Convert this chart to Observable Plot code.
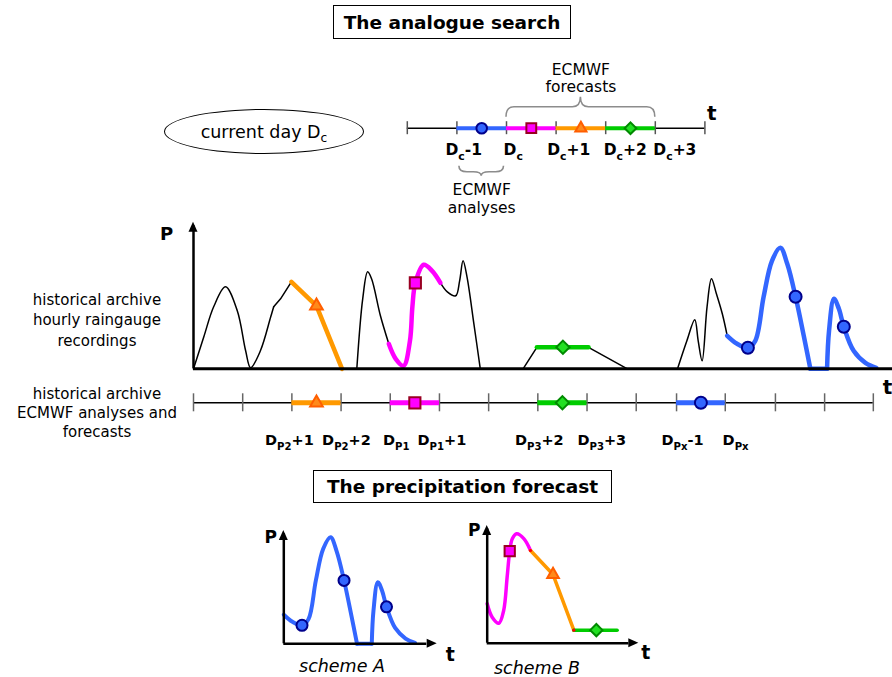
<!DOCTYPE html>
<html><head><meta charset="utf-8">
<script src="https://cdn.jsdelivr.net/npm/d3@7"></script>
<script src="https://cdn.jsdelivr.net/npm/@observablehq/plot@0.6"></script>
<style>
body{margin:0;background:#fff;}
#fig{position:relative;width:892px;height:677px;overflow:hidden;font-family:"DejaVu Sans",sans-serif;color:#000;}
.box{position:absolute;border:1.5px solid #000;box-sizing:border-box;display:flex;align-items:center;justify-content:center;font-weight:bold;font-size:18.5px;}
.ell{position:absolute;border:1.5px solid #000;box-sizing:border-box;border-radius:50%;display:flex;align-items:center;justify-content:center;font-size:17.5px;}
.lab{position:absolute;text-align:center;font-size:15px;}
.cap{position:absolute;text-align:center;font-size:17.5px;font-style:italic;line-height:17px;}
.sub{font-size:70%;position:relative;top:0.4em;}
#fig svg{position:absolute;overflow:visible;}
</style></head><body><div id="fig"></div>
<script>
// ================= DATA =================
// Current-day timeline (days relative to Dc)
const topTicks = [-2, -1, 0, 1, 2, 3, 4];
const topSegments = [
  {series: "analysis", from: -1, to: 0},
  {series: "day0", from: 0, to: 1},
  {series: "day1", from: 1, to: 2},
  {series: "day2", from: 2, to: 3}
];
const topLabels = [
  {text: "D_{c}-1", t: -1.23},
  {text: "D_{c}", t: -0.06},
  {text: "D_{c}+1", t: 0.82},
  {text: "D_{c}+2", t: 1.96},
  {text: "D_{c}+3", t: 2.96}
];
const topBraces = [
  {from: 0, to: 3, side: "above", text: "ECMWF\nforecasts"},
  {from: -1, to: 0, side: "below", text: "ECMWF\nanalyses"}
];

// Historical archive timeline (days from archive start)
const archiveTicks = [0, 1, 2, 3, 4, 5, 6, 7, 8, 9, 9.82, 10.81, 11.83, 12.83, 13.82];
const archiveSegments = [
  {series: "day1", from: 2, to: 3},
  {series: "day0", from: 4, to: 5},
  {series: "day2", from: 7, to: 8},
  {series: "analysis", from: 9.82, to: 10.81}
];
const archiveLabels = [
  {text: "D_{P2}+1", t: 1.95},
  {text: "D_{P2}+2", t: 3.11},
  {text: "D_{P1}", t: 4.12},
  {text: "D_{P1}+1", t: 5.05},
  {text: "D_{P3}+2", t: 7.03},
  {text: "D_{P3}+3", t: 8.3},
  {text: "D_{Px}-1", t: 9.94},
  {text: "D_{Px}", t: 11.02}
];

// Hourly raingauge recordings: [day, P]
const rainBlack1 = [[0,0],[0.21,3.2],[0.41,6.2],[0.65,8.2],[0.89,5.8],[1.06,1.8],[1.16,0.1],[1.36,1.8],[1.57,5.2],[1.63,6.2]];
const rainBlack1b = [[1.63,6.2],[1.77,7.0],[1.99,8.7]];
const rainOrange = [[1.99,8.7],[2.5,6.3],[3.02,0]];
const rainBlack2 = [[3.32,0],[3.44,7.0],[3.54,9.7],[3.62,9.0],[3.8,5.3],[3.97,2.5]];
const rainMagenta = [[3.97,2.5],[4.11,1.0],[4.27,0.3],[4.4,2.8],[4.45,6.2],[4.51,8.6],[4.68,10.4],[4.85,9.8],[5.02,8.6]];
const rainBlack3 = [[5.02,8.6],[5.16,7.7],[5.33,7.3],[5.41,8.8],[5.48,10.8],[5.56,9.2],[5.7,4.5],[5.83,0]];
const rainBlack4 = [[6.7,0],[6.98,2.15]];
const rainGreen = [[6.98,2.15],[8.03,2.15]];
const rainBlack5 = [[8.03,2.15],[8.82,0]];
const rainBlack6 = [[9.84,0],[10.03,2.8],[10.19,4.9],[10.26,2.8],[10.34,0.8],[10.44,6.2],[10.53,9.0],[10.63,7.5],[10.75,5.5],[10.85,3.3]];
const rainBlue1 = [[10.85,3.3],[11.05,2.5],[11.27,2.1],[11.42,2.8],[11.59,7.2],[11.76,10.8],[11.93,12.1],[12.07,10.5],[12.24,7.2],[12.41,3.2],[12.54,0]];
const rainBlue2 = [[12.54,0],[12.88,0]];
const rainBlue3 = [[12.88,0],[12.92,3.8],[13.02,7.0],[13.12,6.0],[13.22,4.2],[13.42,1.8],[13.66,0.6],[13.88,0.1]];
const rainMarkers = [
  {series: "day1", t: 2.5, p: 6.3},
  {series: "day0", t: 4.51, p: 8.6},
  {series: "day2", t: 7.51, p: 2.15},
  {series: "analysis", t: 11.27, p: 2.1},
  {series: "analysis", t: 12.24, p: 7.2},
  {series: "analysis", t: 13.22, p: 4.2}
];

// Scheme B forecast: [day, P]
const schemeBMagenta = [[0,4.38],[0.115,2.89],[0.27,2.22],[0.38,3.63],[0.46,7.33],[0.52,10.22],[0.58,11.6],[0.68,12.16],[0.85,11.6],[1.0,10.3]];
const schemeBOrange = [[1.0,10.3],[1.52,7.63],[2.0,1.45]];
const schemeBGreen = [[2.0,1.45],[3.0,1.45]];
const schemeBJoins = [[1.0,10.3],[2.0,1.45]];
const schemeBMarkers = [
  {series: "day0", t: 0.52, p: 10.22},
  {series: "day1", t: 1.52, p: 7.63},
  {series: "day2", t: 2.52, p: 1.45}
];

// ================= STYLES =================
const styles = {
  analysis: {line: "#3366ff", symbol: "circle", fill: "#3366ff", stroke: "#00008b", r: 6},
  day0: {line: "#ff00ff", symbol: "square", fill: "#ff00ff", stroke: "#990022", r: 6.3},
  day1: {line: "#ff9900", symbol: "triangle", fill: "#ff8a1a", stroke: "#ff5e00", r: 4.7},
  day2: {line: "#00cc00", symbol: "diamond2", fill: "#22e022", stroke: "#008a00", r: 6}
};
const FONT = "DejaVu Sans, sans-serif";
const fig = document.getElementById("fig");

function panel({left, top, width, height, x, y, marks}) {
  const svg = Plot.plot({
    width, height, margin: 0,
    x: {domain: x.domain, range: x.range.map(v => v - left), axis: null},
    y: {domain: y.domain, range: y.range.map(v => v - top), axis: null},
    style: {background: "none", overflow: "visible", fontFamily: FONT},
    marks
  });
  svg.style.left = left + "px";
  svg.style.top = top + "px";
  svg.style.maxWidth = "none";
  fig.appendChild(svg);
  return svg;
}
function line(data, stroke, strokeWidth, curve = "catmull-rom") {
  return Plot.line(data, {x: d => d[0], y: d => d[1], stroke, strokeWidth, curve});
}
function markers(data, xf, yf, scale = 1) {
  return Object.keys(styles).map(s => {
    const st = styles[s];
    return Plot.dot(data.filter(d => d.series === s), {
      x: xf, y: yf, symbol: st.symbol, r: st.r * scale,
      fill: st.fill, stroke: st.stroke, strokeWidth: 2
    });
  });
}
function segmentMarks(segs, strokeWidth, rScale) {
  return [
    ...Object.keys(styles).map(s => Plot.ruleY(segs.filter(d => d.series === s),
      {y: 0, x1: "from", x2: "to", stroke: styles[s].line, strokeWidth, strokeLinecap: "butt"})),
    ...markers(segs, d => (d.from + d.to) / 2, 0, rScale)
  ];
}
function subscripts(svg, fs) {
  const ns = "http://www.w3.org/2000/svg";
  svg.querySelectorAll("text").forEach(t => {
    if (t.querySelector("tspan")) return;
    const m = t.textContent.match(/^(.*?)_\{([^}]*)\}(.*)$/);
    if (!m) return;
    t.textContent = "";
    const a = document.createElementNS(ns, "tspan"); a.textContent = m[1]; t.appendChild(a);
    const b = document.createElementNS(ns, "tspan"); b.textContent = m[2];
    b.setAttribute("font-size", (fs * 0.7) + "px"); b.setAttribute("dy", (fs * 0.28) + "px"); t.appendChild(b);
    if (m[3]) { const c = document.createElementNS(ns, "tspan"); c.textContent = m[3]; c.setAttribute("dy", (-fs * 0.28) + "px"); t.appendChild(c); }
  });
}
function arrowHead(svg, xv, yv, dir) {
  const X = svg.scale("x").apply(xv), Y = svg.scale("y").apply(yv);
  const L = 10, W = 4.5;
  const pts = dir === "up" ? [[X, Y], [X - W, Y + L], [X + W, Y + L]] : [[X, Y], [X - L, Y - W], [X - L, Y + W]];
  d3.select(svg).append("path").attr("d", "M" + pts.join("L") + "Z").attr("fill", "#000");
}
function addBrace(svg, b) {
  const sx = svg.scale("x"), sy = svg.scale("y");
  const inset = b.side === "below" ? 2.5 : 0;
  const x1 = sx.apply(b.from) + inset, x2 = sx.apply(b.to) - inset, base = sy.apply(0);
  const s = b.side === "above" ? -1 : 1;
  const y0 = base + s * (b.side === "above" ? 11 : 38);
  const y1 = y0 + s * (b.side === "above" ? 10 : 6), y2 = y0 + s * (b.side === "above" ? 20 : 10);
  const xm = (x1 + x2) / 2, r = Math.min(8, (x2 - x1) / 4);
  const d = `M${x1},${y0}Q${x1},${y1} ${x1 + r},${y1}L${xm - r},${y1}Q${xm},${y1} ${xm},${y2}Q${xm},${y1} ${xm + r},${y1}L${x2 - r},${y1}Q${x2},${y1} ${x2},${y0}`;
  d3.select(svg).insert("path", ":first-child").attr("d", d).attr("fill", "none").attr("stroke", "#8c8c8c").attr("stroke-width", 1.6);
}

// ================= HTML annotations =================
function html(cls, css, content) {
  const el = document.createElement("div");
  el.className = cls; Object.assign(el.style, css); el.innerHTML = content; fig.appendChild(el); return el;
}
html("box", {left: "333px", top: "5px", width: "238px", height: "34px"}, "The analogue search");
html("box", {left: "313px", top: "470px", width: "299px", height: "33px"}, "The precipitation forecast");
html("ell", {left: "164px", top: "109px", width: "200px", height: "45px"}, "<span>current day D<span class='sub'>c</span></span>");
html("lab", {left: "0px", top: "290px", width: "194px", lineHeight: "20.3px"}, "historical archive<br>hourly raingauge<br>recordings");
html("lab", {left: "0px", top: "385px", width: "194px", lineHeight: "19.2px"}, "historical archive<br>ECMWF analyses and<br>forecasts");
html("cap", {left: "292px", top: "658px", width: "100px"}, "scheme A");
html("cap", {left: "487px", top: "660px", width: "100px"}, "scheme B");

// ================= Current-day timeline =================
const topSvg = panel({
  left: 380, top: 50, width: 350, height: 170,
  x: {domain: [-2, 4], range: [406.8, 704.4]},
  y: {domain: [-1, 1], range: [177.7, 77.7]},
  marks: [
    Plot.ruleY([0], {x1: -2, x2: 4, stroke: "#000", strokeWidth: 1.5}),
    Plot.ruleX(topTicks, {y1: -0.13, y2: 0.13, stroke: "#555", strokeWidth: 1.5}),
    ...segmentMarks(topSegments, 4, 0.88),
    Plot.text(topLabels, {x: "t", y: 0, text: "text", textAnchor: "start", dy: 22, fontSize: 15.5, fontWeight: "bold"}),
    Plot.text(topBraces.filter(d => d.side === "above"), {x: d => (d.from + d.to) / 2, y: 0, text: "text", dy: -50, fontSize: 15.5, lineHeight: 1.12}),
    Plot.text(topBraces.filter(d => d.side === "below"), {x: d => (d.from + d.to) / 2, y: 0, text: "text", dy: 70, fontSize: 15.5, lineHeight: 1.2}),
    Plot.text(["t"], {x: 4, y: 0, dx: 7, dy: -15, fontSize: 20, fontWeight: "bold"})
  ]
});
subscripts(topSvg, 15.5);
topBraces.forEach(b => addBrace(topSvg, b));

// ================= Raingauge recordings =================
const X_MAIN = {domain: [0, 14.21], range: [193, 892]};
const mainSvg = panel({
  left: 150, top: 210, width: 742, height: 172,
  x: X_MAIN,
  y: {domain: [0, 14.66], range: [368.3, 221.7]},
  marks: [
    ...[rainBlack1, rainBlack2, rainBlack3, rainBlack6].map(d => line(d, "#000", 1.5)),
    ...[rainBlack1b, rainBlack4, rainBlack5].map(d => line(d, "#000", 1.5, "linear")),
    line(rainOrange, styles.day1.line, 4.5, "linear"),
    line(rainMagenta, styles.day0.line, 4.5),
    line(rainGreen, styles.day2.line, 4.5, "linear"),
    line(rainBlue1, styles.analysis.line, 4.5),
    line(rainBlue2, styles.analysis.line, 4.5, "linear"),
    line(rainBlue3, styles.analysis.line, 4.5),
    Plot.ruleY([0], {x1: 0, x2: 14.21, stroke: "#000", strokeWidth: 3}),
    Plot.ruleX([0], {y1: 0, y2: 14.3, stroke: "#000", strokeWidth: 2.5}),
    ...markers(rainMarkers, "t", "p"),
    Plot.text(["P"], {x: 0, y: 14.66, dx: -27, dy: 12, fontSize: 18, fontWeight: "bold"}),
    Plot.text(["t"], {x: 14.21, y: 0, dx: -5, dy: 19, fontSize: 20, fontWeight: "bold"})
  ]
});
arrowHead(mainSvg, 0, 14.66, "up");

// ================= Archive timeline =================
const archSvg = panel({
  left: 150, top: 382, width: 742, height: 80,
  x: X_MAIN,
  y: {domain: [-1, 1], range: [452.3, 352.3]},
  marks: [
    Plot.ruleY([0], {x1: 0, x2: 13.82, stroke: "#000", strokeWidth: 1.5}),
    Plot.ruleX(archiveTicks, {y1: -0.18, y2: 0.18, stroke: "#666", strokeWidth: 1.5}),
    ...segmentMarks(archiveSegments, 5, 1),
    Plot.text(archiveLabels, {x: "t", y: 0, text: "text", dy: 38, fontSize: 14.5, fontWeight: "bold"})
  ]
});
subscripts(archSvg, 14.5);

// ================= Scheme A =================
const aSvg = panel({
  left: 255, top: 515, width: 205, height: 140,
  x: {domain: [10.85, 14.39], range: [283.3, 436.7]},
  y: {domain: [0, 12.87], range: [643.3, 530]},
  marks: [
    line(rainBlue1, styles.analysis.line, 4),
    line(rainBlue2, styles.analysis.line, 4, "linear"),
    line(rainBlue3, styles.analysis.line, 4),
    Plot.ruleY([0], {x1: 10.85, x2: 14.15, stroke: "#000", strokeWidth: 2.5}),
    Plot.ruleX([10.85], {y1: 0, y2: 12.5, stroke: "#000", strokeWidth: 2.5}),
    ...markers(rainMarkers.filter(d => d.series === "analysis"), "t", "p", 0.92),
    Plot.text(["P"], {x: 10.85, y: 12.87, dx: -13, dy: 7, fontSize: 17, fontWeight: "bold"}),
    Plot.text(["t"], {x: 14.39, y: 0, dx: 13, dy: 11, fontSize: 19, fontWeight: "bold"})
  ]
});
arrowHead(aSvg, 10.85, 12.87, "up");
arrowHead(aSvg, 14.39, 0, "right");

// ================= Scheme B =================
const bSvg = panel({
  left: 462, top: 515, width: 200, height: 140,
  x: {domain: [0, 3.5], range: [486.7, 638.3]},
  y: {domain: [0, 13.08], range: [642.7, 525]},
  marks: [
    line(schemeBMagenta, styles.day0.line, 3.5),
    line(schemeBOrange, styles.day1.line, 3.5, "linear"),
    line(schemeBGreen, styles.day2.line, 3.5, "linear"),
    Plot.dot(schemeBJoins, {x: d => d[0], y: d => d[1], r: 1.6, fill: "#ff0000"}),
    Plot.ruleY([0], {x1: 0, x2: 3.27, stroke: "#000", strokeWidth: 2.5}),
    Plot.ruleX([0], {y1: 0, y2: 12.7, stroke: "#000", strokeWidth: 2.5}),
    ...markers(schemeBMarkers, "t", "p", 0.92),
    Plot.text(["P"], {x: 0, y: 13.08, dx: -13, dy: 5, fontSize: 17, fontWeight: "bold"}),
    Plot.text(["t"], {x: 3.5, y: 0, dx: 7, dy: 10, fontSize: 19, fontWeight: "bold"})
  ]
});
arrowHead(bSvg, 0, 13.08, "up");
arrowHead(bSvg, 3.5, 0, "right");
</script></body></html>
